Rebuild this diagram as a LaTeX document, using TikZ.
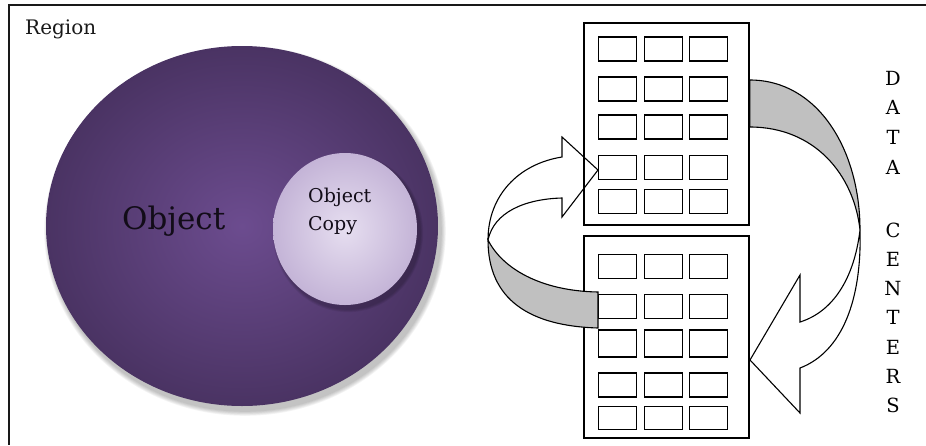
\documentclass[tikz,border=0pt]{standalone}
\usepackage{fontspec}
\setmainfont{DejaVu Serif}
\definecolor{objIn}{RGB}{108,76,143}
\definecolor{objOut}{RGB}{74,51,99}
\definecolor{copyIn}{RGB}{230,222,240}
\definecolor{copyOut}{RGB}{196,180,215}
\definecolor{band}{RGB}{192,192,192}
\definecolor{txt}{RGB}{18,12,24}
\tikzset{
  frameline/.style={line width=2.2pt, draw=black!90},
  rackbox/.style={draw=black, line width=1.5pt, minimum width=165pt, minimum height=202pt, inner sep=0pt},
  cellbox/.style={draw=black, line width=1.4pt, minimum width=38pt, minimum height=24pt, inner sep=0pt},
  ribbon/.style={draw=black, line width=1.1pt, line join=miter},
  bandfill/.style={ribbon, fill=band},
  letter/.style={font=\fontsize{19.5}{22}\selectfont, anchor=base, inner sep=0pt, text=black},
}
\begin{document}
\begin{tikzpicture}[x=1pt,y=-1pt]
\useasboundingbox (0,0) rectangle (926,445);
% frame (only top and left edges are visible)
\draw[frameline] (926,5) -- (9,5) -- (9,445);
\node[anchor=base west, inner sep=0pt, font=\fontsize{20}{24}\selectfont, text=black!90] (region) at (25,34) {Region};

% big object ellipse with soft shadow
\foreach \k in {1,...,6}
  \fill[black, opacity=0.045] (245,231) ellipse [x radius={196+\k*0.8}, y radius={180+\k*0.8}];
\shade[inner color=objIn, outer color=objOut] (242,226) ellipse [x radius=196, y radius=180];
% object copy circle with soft shadow
\foreach \k in {1,...,4}
  \fill[black, opacity=0.06] (348,233) ellipse [x radius={72+\k*0.8}, y radius={76+\k*0.8}];
\shade[inner color=copyIn, outer color=copyOut] (345,229) ellipse [x radius=72, y radius=76];

\node[anchor=base west, inner sep=0pt, font=\fontsize{31}{36}\selectfont, text=txt] (object) at (122,229) {Object};
\node[anchor=base west, inner sep=0pt, font=\fontsize{19}{22}\selectfont, text=txt] (copyA) at (308,202) {Object};
\node[anchor=base west, inner sep=0pt, font=\fontsize{19}{22}\selectfont, text=txt] (copyB) at (308,230) {Copy};

% racks
\node[rackbox] (rackA) at (666.5,124) {};
\node[rackbox] (rackB) at (666.5,337) {};
\foreach \y [count=\r] in {49,89,127,167.5,201.5}
  \foreach \x [count=\c] in {617.5,663.5,708.5}
    \node[cellbox] (a\r\c) at (\x,\y) {};
\foreach \y/\h [count=\r] in {266.5/24,306.5/24,343.5/27,385/24,418/23}
  \foreach \x [count=\c] in {617.5,663.5,708.5}
    \node[cellbox, minimum height=\h pt] (b\r\c) at (\x,\y) {};

% left curved arrow (bottom rack -> top rack)
\coordinate (lx) at (488,240);
\draw[ribbon] (lx) .. controls (494,212) and (525,199) .. (562,198)
  -- (562,217) -- (598,170) -- (562,137) -- (562,157)
  .. controls (518,164) and (488,196) .. (lx);
\draw[bandfill] (lx) .. controls (502,268) and (540,291) .. (598,292)
  -- (598,328) .. controls (530,326) and (488,300) .. (lx) -- cycle;

% right curved arrow (top rack -> bottom rack)
\coordinate (rx) at (860,230);
\draw[bandfill] (rackA.east |- 0,80) .. controls (818,80) and (860,150) .. (rx)
  .. controls (854,175) and (815,127) .. (rackA.east |- 0,127) -- cycle;
\draw[ribbon] (rx) .. controls (854,280) and (832,312) .. (800,322)
  -- (800,275) -- (750,360) -- (800,413) -- (800,368)
  .. controls (842,352) and (862,300) .. (rx);

% DATA CENTERS
\foreach \l [count=\i] in {D,A,T,A}
  \node[letter] (data\i) at (893,{85+29.7*(\i-1)}) {\l};
\foreach \l [count=\i] in {C,E,N,T,E,R,S}
  \node[letter] (cent\i) at (893,{237+29.3*(\i-1)}) {\l};
\end{tikzpicture}
\end{document}
